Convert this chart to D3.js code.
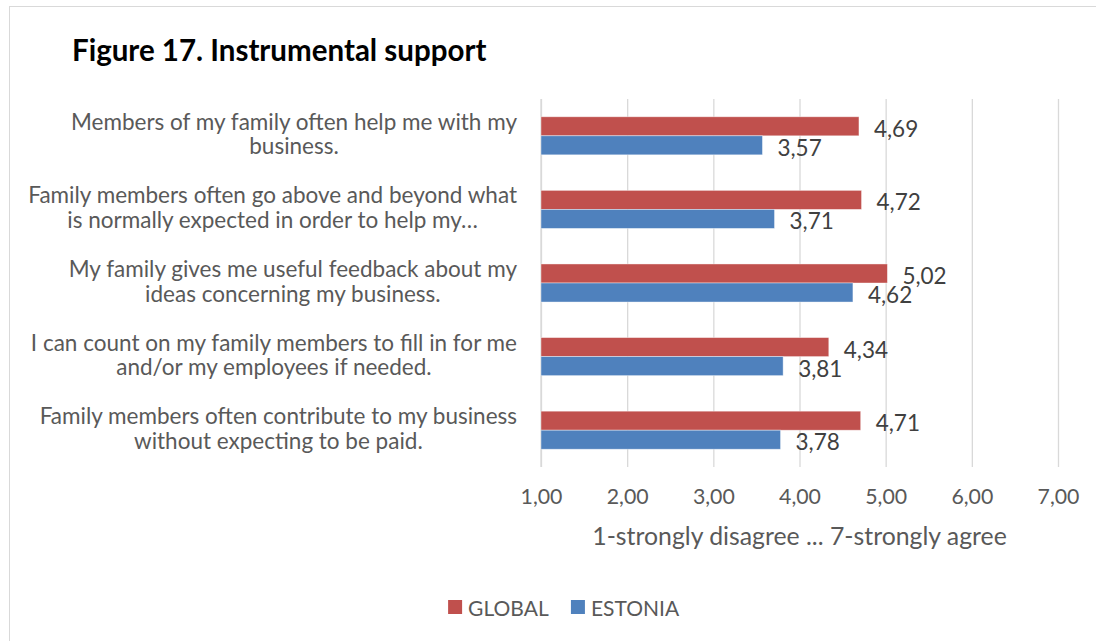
<!DOCTYPE html>
<html>
<head>
<meta charset="utf-8">
<script src="https://cdn.jsdelivr.net/npm/d3@7"></script>
<style>
  html, body { margin: 0; padding: 0; background: #fff; }
  svg { display: block; font-family: Lato, "Open Sans", sans-serif; }
</style>
</head>
<body>
<svg id="chart" width="1096" height="641"></svg>
<script>
// Survey statements (two lines each, as wrapped on the chart)
const categories = [
  ["Members of my family often help me with my", "business."],
  ["Family members often go above and beyond what", "is normally expected in order to help my…"],
  ["My family gives me useful feedback about my", "ideas concerning my business."],
  ["I can count on my family members to fill in for me", "and/or my employees if needed."],
  ["Family members often contribute to my business", "without expecting to be paid."]
];
const seriesNames = ["GLOBAL", "ESTONIA"];
const globalValues = [4.69, 4.72, 5.02, 4.34, 4.71];
const estoniaValues = [3.57, 3.71, 4.62, 3.81, 3.78];
const tickValues = [1, 2, 3, 4, 5, 6, 7];
const titleText = "Figure 17. Instrumental support";
const axisTitle = "1-strongly disagree ... 7-strongly agree";

const colors = { GLOBAL: "#C0504D", ESTONIA: "#4F81BD" };
const fmt = v => d3.format(".2f")(v).replace(".", ",");

const svg = d3.select("#chart");

// chart frame
svg.append("rect")
  .attr("x", 9.5).attr("y", 6.5)
  .attr("width", 1109).attr("height", 700)
  .attr("fill", "#fff").attr("stroke", "#d9d9d9").attr("stroke-width", 1);

// title
svg.append("text")
  .attr("x", 72).attr("y", 61)
  .attr("font-size", 29.5).attr("font-weight", 700).attr("fill", "#000")
  .text(titleText);

const plot = { left: 541, right: 1058, top: 99, bottom: 467 };

const x = d3.scaleLinear().domain([1, 7]).range([plot.left, plot.right]);
const idx = categories.map((_, i) => i);
const y0 = d3.scaleBand().domain(idx).range([plot.top, plot.bottom])
  .paddingInner(0.483).paddingOuter(0.2415);
const y1 = d3.scaleBand().domain(seriesNames).range([0, y0.bandwidth()]);

// vertical gridlines (the x axis, drawn with ticks spanning the plot height)
const gridAxis = d3.axisBottom(x).tickValues(tickValues)
  .tickSize(-(plot.bottom - plot.top)).tickFormat("");
const grid = svg.append("g")
  .attr("transform", `translate(0,${plot.bottom})`)
  .call(gridAxis);
grid.select(".domain").remove();
grid.selectAll(".tick line").attr("stroke", "#d9d9d9").attr("stroke-width", 1.3);

// tick labels
const tickAxis = d3.axisBottom(x).tickValues(tickValues).tickSize(0).tickPadding(0)
  .tickFormat(fmt);
const ticks = svg.append("g")
  .attr("transform", `translate(0,${plot.bottom + 37})`)
  .call(tickAxis);
ticks.select(".domain").remove();
ticks.selectAll("text")
  .attr("dy", 0).attr("font-family", "Lato, sans-serif")
  .attr("font-size", 21.3).attr("fill", "#595959");

// axis title
svg.append("text")
  .attr("x", (plot.left + plot.right) / 2).attr("y", 545)
  .attr("text-anchor", "middle")
  .attr("font-size", 24.8).attr("fill", "#595959")
  .text(axisTitle);

// category axis line
svg.append("line")
  .attr("x1", plot.left).attr("x2", plot.left)
  .attr("y1", plot.top).attr("y2", plot.bottom)
  .attr("stroke", "#d9d9d9").attr("stroke-width", 1.3);

// bars
const rows = idx.map(i => ({
  i,
  values: [
    { key: "GLOBAL", value: globalValues[i] },
    { key: "ESTONIA", value: estoniaValues[i] }
  ]
}));

const groups = svg.append("g").selectAll("g")
  .data(rows).join("g")
  .attr("transform", d => `translate(0,${y0(d.i)})`);

groups.selectAll("rect")
  .data(d => d.values).join("rect")
  .attr("x", x(1))
  .attr("y", d => y1(d.key))
  .attr("width", d => x(d.value) - x(1))
  .attr("height", y1.bandwidth())
  .attr("fill", d => colors[d.key])
  .attr("stroke", "#fff").attr("stroke-opacity", 0.5).attr("stroke-width", 0.8);

groups.selectAll("text")
  .data(d => d.values).join("text")
  .attr("x", d => x(d.value) + 15)
  .attr("y", d => y1(d.key) + y1.bandwidth() / 2 + 2)
  .attr("dominant-baseline", "central")
  .attr("font-size", 22.5).attr("fill", "#404040")
  .text(d => fmt(d.value));

// category labels: lines centred on each other, block right-aligned
const labelRight = 517;
const labelG = svg.append("g");
categories.forEach((lines, i) => {
  const c = y0(i) + y0.bandwidth() / 2;
  const t = labelG.append("text")
    .attr("font-size", 22.5).attr("fill", "#595959")
    .attr("text-anchor", "middle");
  const spans = lines.map((s, k) => t.append("tspan")
    .attr("y", c - 6 + k * 24.5).text(s));
  const maxW = d3.max(spans, sp => sp.node().getComputedTextLength());
  spans.forEach(sp => sp.attr("x", labelRight - maxW / 2));
});

// legend
const legend = svg.append("g");
const items = legend.selectAll("g").data(seriesNames).join("g");
items.append("rect")
  .attr("width", 14).attr("height", 14)
  .attr("fill", d => colors[d]);
items.append("text")
  .attr("x", 20).attr("y", 7)
  .attr("dominant-baseline", "central")
  .attr("font-size", 21).attr("fill", "#595959")
  .text(d => d);
let cx = 0;
items.each(function () {
  const w = this.getBBox().width;
  d3.select(this).attr("transform", `translate(${cx},0)`);
  cx += w + 22;
});
const legendW = cx - 22;
const chartCenter = 9.5 + 1109 / 2;
legend.attr("transform", `translate(${chartCenter - legendW / 2},600)`);
</script>
</body>
</html>
